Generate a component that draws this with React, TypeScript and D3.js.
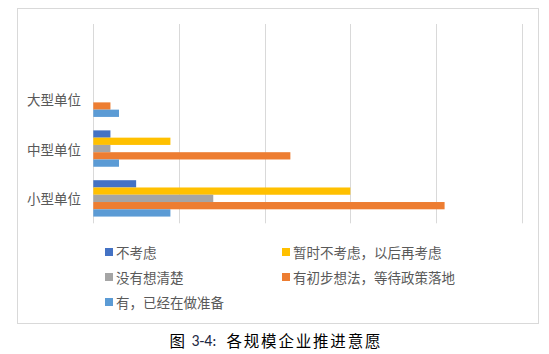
import React from "react";
import * as d3 from "d3";

const categories = ["", "大型单位", "中型单位", "小型单位"];
const seriesNames = [
  "不考虑",
  "暂时不考虑，以后再考虑",
  "没有想清楚",
  "有初步想法，等待政策落地",
  "有，已经在做准备",
];
const seriesColors = ["#4472C4", "#FFC000", "#A5A5A5", "#ED7D31", "#5B9BD5"];
// values per series, indexed by category
const values: number[][] = [
  [0, 0, 2, 5],
  [0, 0, 9, 30],
  [0, 0, 2, 14],
  [0, 2, 23, 41],
  [0, 3, 3, 9],
];
const xTicks = [0, 10, 20, 30, 40, 50];
const captionParts = ["图", "3-4:", "各规模企业推进意愿"];

const W = 549;
const H = 354;

export default function App() {
  const plotLeft = 93.3;
  const plotRight = 521.7;
  const plotTop = 24;
  const plotBottom = 223.3;
  const x = d3.scaleLinear().domain([0, 50]).range([plotLeft, plotRight]);
  const y = d3
    .scaleBand<string>()
    .domain(categories)
    .range([plotTop, plotBottom])
    .paddingInner(0.27)
    .paddingOuter(0.135);
  const inner = d3
    .scaleBand<number>()
    .domain(d3.range(seriesNames.length))
    .range([0, y.bandwidth()]);
  const font = "'Noto Sans CJK SC', 'Noto Sans', sans-serif";
  const legendPos = [
    [105, 252],
    [282, 252],
    [105, 277],
    [282, 277],
    [105, 302],
  ];
  return (
    <svg
      width={W}
      height={H}
      style={{ position: "absolute", left: 0, top: 0, background: "#fff" }}
    >
      <rect x={0} y={0} width={W} height={H} fill="#fff" />
      <rect
        x={17.5}
        y={8.5}
        width={521}
        height={315}
        fill="#fff"
        stroke="#D9D9D9"
        strokeWidth={1}
      />
      {xTicks.map((t) => (
        <line
          key={t}
          x1={Math.round(x(t)) + 0.5}
          x2={Math.round(x(t)) + 0.5}
          y1={plotTop}
          y2={plotBottom}
          stroke="#D9D9D9"
          strokeWidth={1}
        />
      ))}
      {categories.map((c, ci) =>
        values.map((vals, si) => {
          const v = vals[ci];
          if (!v) return null;
          return (
            <rect
              key={`${ci}-${si}`}
              x={x(0)}
              y={(y(c) as number) + (inner(si) as number)}
              width={x(v) - x(0)}
              height={inner.bandwidth()}
              fill={seriesColors[si]}
            />
          );
        })
      )}
      {categories.map((c) =>
        c ? (
          <text
            key={c}
            x={81}
            y={(y(c) as number) + y.bandwidth() / 2}
            textAnchor="end"
            dominantBaseline="central"
            fontFamily={font}
            fontSize={13.5}
            fill="#595959"
          >
            {c}
          </text>
        ) : null
      )}
      {seriesNames.map((n, i) => (
        <g key={n} transform={`translate(${legendPos[i][0]},${legendPos[i][1]})`}>
          <rect x={0} y={-4} width={8} height={8} fill={seriesColors[i]} />
          <text
            x={11}
            y={0}
            dominantBaseline="central"
            fontFamily={font}
            fontSize={13.5}
            fill="#595959"
          >
            {n}
          </text>
        </g>
      ))}
      <g fontFamily={font} fontSize={15.5} fill="#000">
        <text x={169.5} y={340} dominantBaseline="central">
          {captionParts[0]}
        </text>
        <text
          x={191.5}
          y={340}
          dominantBaseline="central"
          fontFamily="Calibri, Carlito, 'Liberation Sans', sans-serif"
          fill="#1F2A44"
          textLength={25}
          lengthAdjust="spacingAndGlyphs"
        >
          {captionParts[1]}
        </text>
        <text
          x={226.5}
          y={340}
          dominantBaseline="central"
          textLength={154}
          lengthAdjust="spacing"
        >
          {captionParts[2]}
        </text>
      </g>
    </svg>
  );
}
